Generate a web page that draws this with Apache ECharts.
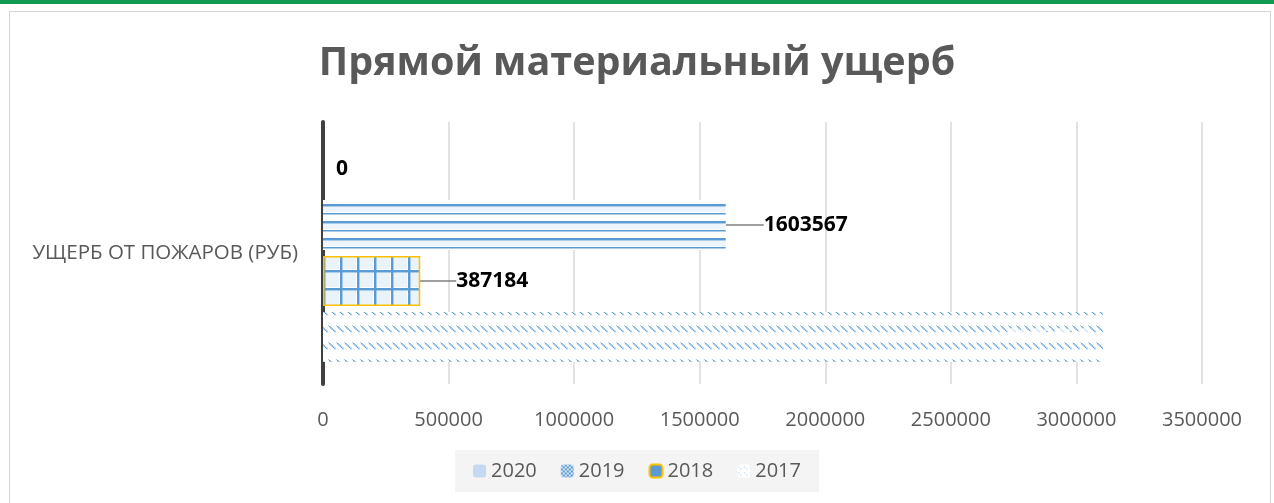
<!DOCTYPE html>
<html>
<head>
<meta charset="utf-8">
<script src="https://cdn.jsdelivr.net/npm/echarts@6/dist/echarts.min.js"></script>
<style>
  html, body { margin: 0; padding: 0; background: #fff; }
  #topbar { position: absolute; left: 0; top: 0; width: 1274px; height: 4px; background: #13994f; }
  #frame { position: absolute; left: 9px; top: 11px; width: 1262px; height: 500px; border: 1px solid #d4d4d4; box-sizing: border-box; }
  #chart { position: absolute; left: 0; top: 0; width: 1274px; height: 503px; }
</style>
</head>
<body>
<div id="topbar"></div>
<div id="frame"></div>
<div id="chart"></div>
<script>
  var categories = ['УЩЕРБ ОТ ПОЖАРОВ (РУБ)'];
  var years = ['2020', '2019', '2018', '2017'];
  var values2020 = [0];
  var values2019 = [1603567];
  var values2018 = [387184];
  var values2017 = [3106000];
  var xTicks = { min: 0, max: 3500000, interval: 500000 };

  var blue = '#5b9bd5';

  // pattern tiles, drawn like the excel fills
  function makeTile(w, h, draw) {
    var c = document.createElement('canvas');
    c.width = w; c.height = h;
    var ctx = c.getContext('2d');
    draw(ctx);
    return c;
  }

  var hLines = makeTile(8, 17, function (ctx) {
    ctx.fillStyle = '#fff'; ctx.fillRect(0, 0, 8, 17);
    ctx.fillStyle = '#eef4fb'; ctx.fillRect(0, 3, 8, 5);
    ctx.fillStyle = blue; ctx.fillRect(0, 0, 8, 2.5);
    ctx.fillRect(0, 9, 8, 1.5);
  });

  var grid = makeTile(17, 18, function (ctx) {
    ctx.fillStyle = '#fff'; ctx.fillRect(0, 0, 17, 18);
    ctx.fillStyle = '#eaf2fa'; ctx.fillRect(3, 3, 13, 14);
    ctx.fillStyle = blue; ctx.fillRect(0, 0, 2.5, 18);
    ctx.fillRect(0, 0, 17, 2.5);
  });

  var dots = makeTile(8, 17, function (ctx) {
    ctx.fillStyle = '#fff'; ctx.fillRect(0, 0, 8, 17);
    ctx.fillStyle = blue;
    for (var i = 0; i < 5; i++) ctx.fillRect(1 + i * 1.3, 3 + i * 1.2, 1.4, 1.4);
    ctx.fillStyle = '#a9c8ea';
    ctx.fillRect(0, 2, 1, 1);
  });

  // legend only: small checker of dots
  var checker = makeTile(4, 4, function (ctx) {
    ctx.fillStyle = '#dbe8f6'; ctx.fillRect(0, 0, 4, 4);
    ctx.fillStyle = blue;
    ctx.fillRect(0, 0, 2, 2);
    ctx.fillRect(2, 2, 2, 2);
  });

  var legendDots = makeTile(6, 6, function (ctx) {
    ctx.fillStyle = '#fff'; ctx.fillRect(0, 0, 6, 6);
    ctx.fillStyle = '#9cc0e6';
    ctx.fillRect(1, 2, 1, 1);
    ctx.fillRect(3, 4, 1, 1);
  });

  var solidIcon = '#c5d9f0';

  var myChart = echarts.init(document.getElementById('chart'));

  var labelBase = {
    show: true,
    position: 'right',
    color: '#000',
    fontFamily: 'Open Sans',
    fontWeight: 'bold',
    fontSize: 21
  };

  var option = {
    animation: false,
    title: {
      text: 'Прямой материальный ущерб',
      left: 'center',
      top: 39,
      textStyle: { fontFamily: 'Open Sans', fontWeight: 'bold', fontSize: 39.5, color: '#595959' }
    },
    legend: {
      bottom: 11,
      left: 'center',
      backgroundColor: '#f4f4f4',
      padding: [11, 18, 11, 18],
      itemWidth: 13,
      itemHeight: 13,
      itemGap: 24,
      textStyle: { fontFamily: 'Open Sans', fontSize: 20, color: '#595959' },
      data: [
        { name: '2020', itemStyle: { color: solidIcon, borderWidth: 0 } },
        { name: '2019', itemStyle: { color: { image: checker, repeat: 'repeat' }, borderWidth: 0 } },
        { name: '2018', itemStyle: { color: '#5b9bd5', borderColor: '#ffc000', borderWidth: 2 } },
        { name: '2017', itemStyle: { color: { image: legendDots, repeat: 'repeat' }, borderWidth: 0 } }
      ]
    },
    grid: { left: 323, right: 72, top: 122, bottom: 119 },
    xAxis: {
      type: 'value',
      min: xTicks.min,
      max: xTicks.max,
      interval: xTicks.interval,
      axisLine: { show: false },
      axisTick: { show: false },
      axisLabel: {
        margin: 26,
        fontFamily: 'Open Sans',
        fontSize: 20,
        color: '#595959',
        formatter: function (v) { return String(v); }
      },
      splitLine: { lineStyle: { color: '#d9d9d9', width: 1.5 } }
    },
    yAxis: {
      type: 'category',
      inverse: true,
      data: categories,
      axisLine: { lineStyle: { color: '#404040', width: 4 } },
      axisTick: { show: false },
      axisLabel: { margin: 25, fontFamily: 'Open Sans', fontSize: 20.5, color: '#595959' }
    },
    series: [
      {
        name: years[0], type: 'bar', data: values2020, barWidth: 50, barGap: '12%',
        itemStyle: { color: solidIcon },
        label: Object.assign({}, labelBase, { distance: 13 })
      },
      {
        name: years[1], type: 'bar', data: values2019, barWidth: 50, barGap: '12%',
        itemStyle: { color: { image: hLines, repeat: 'repeat' } },
        label: Object.assign({}, labelBase, { distance: 4 }),
        labelLayout: { dx: 34 },
        labelLine: { show: true, lineStyle: { color: '#7f7f7f', width: 1.5 } }
      },
      {
        name: years[2], type: 'bar', data: values2018, barWidth: 50, barGap: '12%',
        itemStyle: { color: { image: grid, repeat: 'repeat' }, borderColor: '#ffc000', borderWidth: 1.5 },
        label: Object.assign({}, labelBase, { distance: 4 }),
        labelLayout: { dx: 32 },
        labelLine: { show: true, lineStyle: { color: '#7f7f7f', width: 1.5 } }
      },
      {
        name: years[3], type: 'bar', data: values2017, barWidth: 50, barGap: '12%',
        itemStyle: { color: { image: dots, repeat: 'repeat' } },
        label: Object.assign({}, labelBase, { position: 'insideRight', distance: 14, color: '#ffffff', opacity: 0.7 })
      }
    ]
  };

  myChart.setOption(option);
</script>
</body>
</html>
